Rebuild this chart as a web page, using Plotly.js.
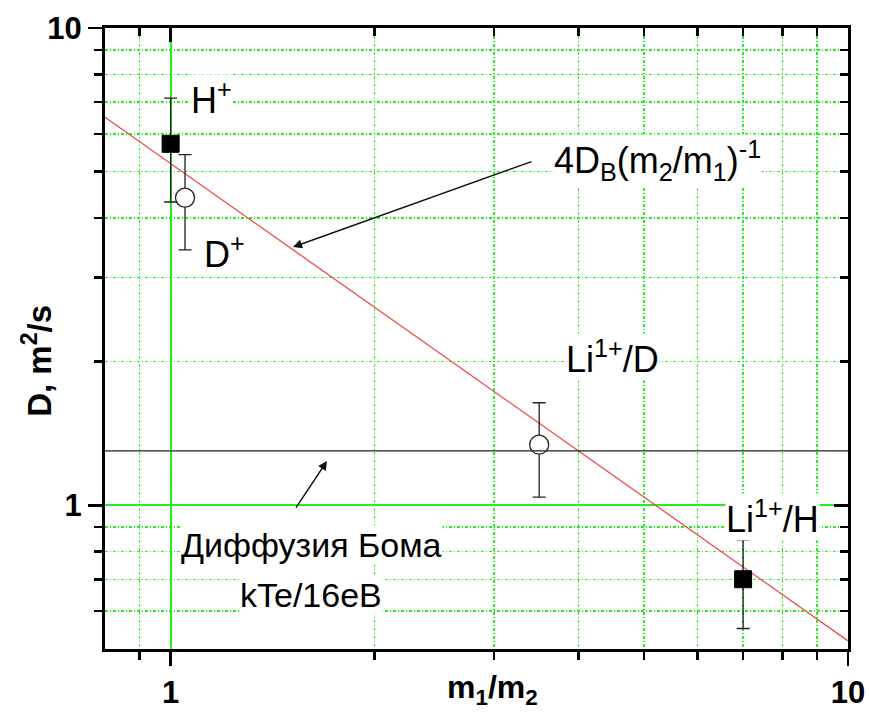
<!DOCTYPE html>
<html>
<head>
<meta charset="utf-8">
<script src="https://cdn.plot.ly/plotly-3.0.1.min.js"></script>
<style>
  html, body { margin: 0; padding: 0; background: #fff; }
  #chart { width: 869px; height: 714px; }
</style>
</head>
<body>
<div id="chart"></div>
<script>
// Measured diffusion coefficients vs. mass ratio
const hX = [1.0, 7.0];          // H+ and Li1+/H (filled squares)
const hY = [5.72, 0.70];
const hErrPlus = [1.41, 0.146];
const hErrMinus = [1.40, 0.148];

const dX = [1.05, 3.5];         // D+ and Li1+/D (open circles)
const dY = [4.41, 1.34];
const dErrPlus = [1.02, 0.30];
const dErrMinus = [0.98, 0.30];

// 4·D_B·(m2/m1)^-1 line (straight on log-log), and Bohm level D_B
const fitX = [0.8, 10];
const fitY = [6.5, 0.52];
const bohmX = [0.8, 10];
const bohmY = [1.3, 1.3];

// axis ticks
const majorVals = [1, 10];
const majorText = ['1', '10'];
const xMinorVals = [0.9, 2, 3, 4, 5, 6, 7, 8, 9];
const yMinorVals = [0.6, 0.7, 0.8, 0.9, 2, 3, 4, 5, 6, 7, 8, 9];

const FONT = 'Liberation Sans, Arial, sans-serif';
const GRID = '#22ee22';

const traces = [
  {
    x: bohmX, y: bohmY, mode: 'lines', xaxis: 'x2', yaxis: 'y2',
    line: {color: '#222', width: 1.2}, hoverinfo: 'skip', showlegend: false
  },
  {
    x: fitX, y: fitY, mode: 'lines',
    line: {color: '#f24a4a', width: 1.3}, hoverinfo: 'skip', showlegend: false
  },
  {
    x: dX, y: dY, mode: 'markers', showlegend: false,
    marker: {symbol: 'circle', size: 19, color: '#fff', line: {color: '#222', width: 1.3}},
    error_y: {type: 'data', symmetric: false, array: dErrPlus, arrayminus: dErrMinus,
              color: '#222', thickness: 1.3, width: 6.5}
  },
  {
    x: hX, y: hY, mode: 'markers', showlegend: false,
    marker: {symbol: 'square', size: 17, color: '#000', line: {color: '#000', width: 1}},
    error_y: {type: 'data', symmetric: false, array: hErrPlus, arrayminus: hErrMinus,
              color: '#222', thickness: 1.3, width: 6.5}
  }
];

const xr = [Math.log10(0.8), 1];
const yr = [Math.log10(0.5), 1];

const tickCommon = {
  type: 'log', showline: true, linecolor: '#000', linewidth: 3,
  tickmode: 'array', tickvals: majorVals, tickcolor: '#000', tickwidth: 2.5, ticklen: 14,
  zeroline: false
};

const minorGrid = {showgrid: true, gridcolor: GRID, gridwidth: 1.5, griddash: '3px,2px,1px,2px'};

const layout = {
  width: 869, height: 714,
  margin: {l: 105, r: 21, t: 28, b: 65},
  paper_bgcolor: '#fff', plot_bgcolor: '#fff',
  font: {family: FONT, color: '#000'},
  showlegend: false,
  xaxis: Object.assign({}, tickCommon, {
    range: xr, ticks: 'outside', ticktext: majorText,
    tickfont: {family: FONT, size: 31, weight: 'bold', color: '#000'},
    showgrid: true, gridcolor: GRID, gridwidth: 2,
    minor: Object.assign({tickmode: 'array', tickvals: xMinorVals, ticks: 'outside', ticklen: 8,
            tickwidth: 2.5, tickcolor: '#000'}, minorGrid)
  }),
  yaxis: Object.assign({}, tickCommon, {
    range: yr, ticks: 'outside', ticktext: majorText,
    tickfont: {family: FONT, size: 31, weight: 'bold', color: '#000'},
    showgrid: true, gridcolor: GRID, gridwidth: 2,
    minor: Object.assign({tickmode: 'array', tickvals: yMinorVals, ticks: 'outside', ticklen: 8,
            tickwidth: 2.5, tickcolor: '#000'}, minorGrid)
  }),
  xaxis2: Object.assign({}, tickCommon, {
    range: xr, side: 'top', overlaying: 'x', ticks: 'inside', showticklabels: false,
    showgrid: false, gridcolor: GRID,
    minor: {tickmode: 'array', tickvals: xMinorVals, ticks: 'inside', ticklen: 8,
            tickwidth: 2.5, tickcolor: '#000', showgrid: false, gridcolor: GRID}
  }),
  yaxis2: Object.assign({}, tickCommon, {
    range: yr, side: 'right', overlaying: 'y', ticks: 'inside', showticklabels: false,
    showgrid: false, gridcolor: GRID,
    minor: {tickmode: 'array', tickvals: yMinorVals, ticks: 'inside', ticklen: 8,
            tickwidth: 2.5, tickcolor: '#000', showgrid: false, gridcolor: GRID}
  }),
  annotations: [
    // axis titles
    {xref: 'paper', yref: 'paper', x: -0.0915, y: 0.464, textangle: -90,
     text: 'D, m<sup>2</sup>/s', showarrow: false, xanchor: 'center', yanchor: 'middle',
     font: {family: FONT, size: 33, weight: 'bold'}},
    {xref: 'paper', yref: 'paper', x: 0.521, y: -0.066,
     text: 'm<sub>1</sub>/m<sub>2</sub>', showarrow: false, xanchor: 'center', yanchor: 'middle',
     font: {family: FONT, size: 32, weight: 'bold'}},
    // series labels
    {xref: 'paper', yref: 'paper', x: 0.144, y: 0.888, text: 'H<sup>+</sup>',
     showarrow: false, xanchor: 'center', yanchor: 'middle', bgcolor: '#fff', borderpad: 0,
     font: {family: FONT, size: 36}},
    {xref: 'paper', yref: 'paper', x: 0.1615, y: 0.6385, text: 'D<sup>+</sup>',
     showarrow: false, xanchor: 'center', yanchor: 'middle', bgcolor: '#fff', borderpad: 0,
     font: {family: FONT, size: 36}},
    {xref: 'paper', yref: 'paper', x: 0.7436, y: 0.7866,
     text: '4D<sub>B</sub>(m<sub>2</sub>/m<sub>1</sub>)<sup>-1</sup>',
     showarrow: false, xanchor: 'center', yanchor: 'middle', bgcolor: '#fff', borderpad: 0,
     font: {family: FONT, size: 36}},
    {xref: 'paper', yref: 'paper', x: 0.6837, y: 0.4702, text: 'Li<sup>1+</sup>/D',
     showarrow: false, xanchor: 'center', yanchor: 'middle', bgcolor: '#fff', borderpad: 0,
     font: {family: FONT, size: 36}},
    {xref: 'paper', yref: 'paper', x: 0.898, y: 0.2118, text: 'Li<sup>1+</sup>/H',
     showarrow: false, xanchor: 'center', yanchor: 'middle', bgcolor: '#fff', borderpad: 0,
     font: {family: FONT, size: 36}},
    {xref: 'paper', yref: 'paper', x: 0.278, y: 0.1675, text: 'Диффузия Бома',
     showarrow: false, xanchor: 'center', yanchor: 'middle', bgcolor: '#fff', borderpad: 0,
     font: {family: FONT, size: 34}},
    {xref: 'paper', yref: 'paper', x: 0.2766, y: 0.087, text: 'kTe/16eB',
     showarrow: false, xanchor: 'center', yanchor: 'middle', bgcolor: '#fff', borderpad: 0,
     font: {family: FONT, size: 34}},
    // pointers
    {xref: 'paper', yref: 'paper', x: 0.253, y: 0.6473, ax: 240, ay: -86, text: '',
     showarrow: true, arrowhead: 2, arrowsize: 1.3, arrowwidth: 1.4, arrowcolor: '#111'},
    {xref: 'paper', yref: 'paper', x: 0.2988, y: 0.3027, ax: -32, ay: 48, text: '',
     showarrow: true, arrowhead: 2, arrowsize: 1.3, arrowwidth: 1.4, arrowcolor: '#111'}
  ]
};

Plotly.newPlot('chart', traces, layout, {staticPlot: true, displayModeBar: false});
</script>
</body>
</html>
